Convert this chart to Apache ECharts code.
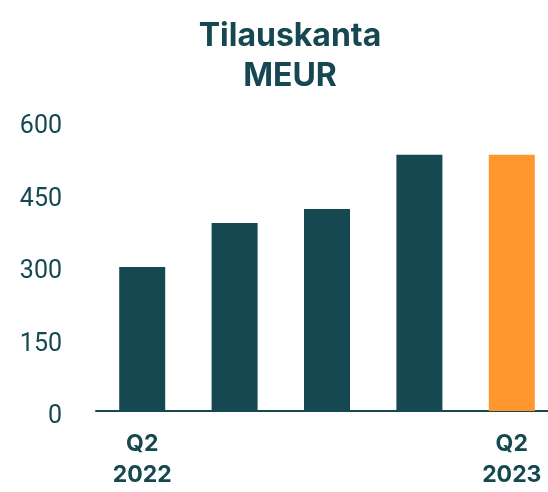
<!DOCTYPE html>
<html>
<head>
<meta charset="utf-8">
<script src="https://cdn.jsdelivr.net/npm/echarts@6/dist/echarts.min.js"></script>
<style>
  html, body { margin: 0; padding: 0; background: #fff; }
  #chart { width: 548px; height: 492px; }
</style>
</head>
<body>
<div id="chart"></div>
<script>
  // order backlog, MEUR
  var quarters = ['Q2\n2022', 'Q3\n2022', 'Q4\n2022', 'Q1\n2023', 'Q2\n2023'];
  var shownLabels = ['Q2\n2022', '', '', '', 'Q2\n2023'];
  var backlog = [298, 389, 418, 530, 530];
  var yTicks = [0, 150, 300, 450, 600];

  var dark = '#164852';
  var orange = '#FF962E';

  var chart = echarts.init(document.getElementById('chart'));

  var option = {
    animation: false,
    title: {
      text: 'Tilauskanta\nMEUR',
      left: 285,
      top: 11,
      textAlign: 'center',
      textStyle: {
        color: dark,
        fontFamily: 'Inter',
        fontWeight: 'bold',
        fontSize: 32,
        lineHeight: 40
      }
    },
    grid: {
      left: 96,
      width: 462,
      top: 121,
      bottom: 81,
      outerBoundsMode: 'none'
    },
    xAxis: {
      type: 'category',
      data: quarters,
      axisLine: { lineStyle: { color: dark, width: 2 } },
      axisTick: { show: false },
      axisLabel: {
        margin: 18,
        color: dark,
        fontFamily: 'Inter',
        fontWeight: 'bold',
        fontSize: 23,
        lineHeight: 31,
        formatter: function (v, i) { return shownLabels[i]; }
      }
    },
    yAxis: {
      type: 'value',
      min: yTicks[0],
      max: yTicks[yTicks.length - 1],
      interval: 150,
      splitLine: { show: false },
      axisLine: { show: false },
      axisTick: { show: false },
      axisLabel: {
        margin: 34,
        formatter: function (v) { return '{n|' + v + '}'; },
        rich: {
          n: {
            color: dark,
            fontFamily: 'Roboto',
            fontWeight: 'normal',
            fontSize: 25,
            padding: [12, 0, 0, 0]
          }
        }
      }
    },
    series: [{
      type: 'bar',
      barWidth: 46,
      data: backlog.map(function (v, i) {
        return {
          value: v,
          itemStyle: { color: i === backlog.length - 1 ? orange : dark }
        };
      })
    }]
  };

  chart.setOption(option);
</script>
</body>
</html>
